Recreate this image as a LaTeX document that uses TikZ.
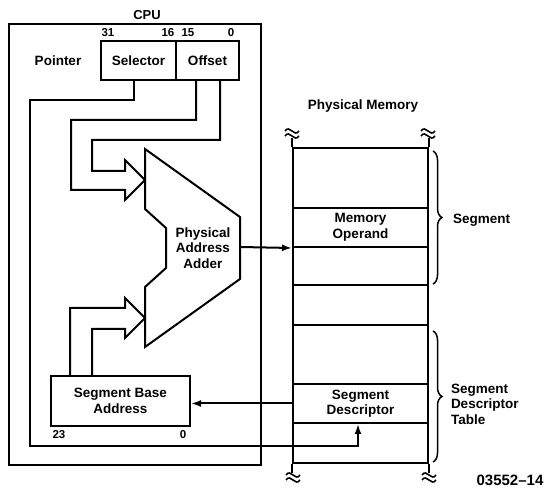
\documentclass[tikz,border=0pt]{standalone}
\usepackage{fontspec}
\setmainfont{Liberation Sans}
\usetikzlibrary{arrows.meta,decorations.pathreplacing,calc}
\begin{document}
\begin{tikzpicture}[x=1pt,y=-1pt,line width=2pt,line join=miter,
  lbl/.style={font=\fontsize{13.5}{15.5}\selectfont\bfseries,align=center,inner sep=0pt},
  num/.style={font=\fontsize{11.5}{12}\selectfont\bfseries,inner sep=0pt},
  field/.style={draw,lbl,minimum height=39pt},
  memrow/.style={draw,lbl,minimum width=135pt,minimum height=#1},
  tip/.style={-{Latex[length=10pt,width=7pt]}},
  brc/.style={decorate,decoration={brace,amplitude=9pt},line width=1.5pt},
  brk/.pic={\draw[line width=1.6pt] (-7,-2) .. controls (-2,-9) and (2,5) .. (7,-2);
            \draw[line width=1.6pt] (-7,3) .. controls (-2,-4) and (2,10) .. (7,3);}]
\useasboundingbox (0,0) rectangle (550,489);

% CPU
\node[draw,minimum width=252pt,minimum height=441pt,inner sep=0pt] (cpu) at (135,244.5) {};
\node[lbl,font=\fontsize{13}{14}\selectfont\bfseries] (cpulbl) at (147,15) {CPU};
\node[lbl] (ptr) at (58,61) {Pointer};
\node[field,minimum width=75pt] (sel) at (138.5,60.5) {Selector};
\node[field,minimum width=63pt] (off) at (207.5,60.5) {Offset};
\node[num] (b31) at (108,33) {31};
\node[num] (b16) at (168,33) {16};
\node[num] (b15) at (188,33) {15};
\node[num] (b0) at (231,33) {0};

% adder
\coordinate (tipA) at (145,180);
\coordinate (tipB) at (145,318);
\coordinate (aout) at (240,247);
\draw (145,149) -- (240,217) -- (240,279) -- (145,347) -- (145,287) -- (166,268)
      -- (166,228) -- (145,209) -- cycle;
\node[lbl] (add) at (203,248) {Physical\\Address\\Adder};

% segment base
\node[draw,lbl,minimum width=139pt,minimum height=50pt] (sb) at (120.5,401) {Segment Base\\Address};
\node[num] (b23) at (59,435) {23};
\node[num] (b0b) at (183,435) {0};

% memory
\node[lbl] (pm) at (363,106) {Physical Memory};
\node[memrow=60pt] (r1) at (360.5,178) {};
\node[memrow=39pt] (r2) at (360.5,227.5) {Memory\\Operand};
\node[memrow=38pt] (r3) at (360.5,266) {};
\node[memrow=40pt] (r4) at (360.5,305) {};
\node[memrow=59pt] (r5) at (360.5,354.5) {};
\node[memrow=39pt] (r6) at (360.5,403.5) {Segment\\Descriptor};
\node[memrow=40pt] (r7) at (360.5,443) {};
\draw (r1.north west) -- ++(0,-9);
\draw (r1.north east) -- ++(0,-9);
\draw (r7.south west) -- ++(0,9);
\draw (r7.south east) -- ++(0,9);
\pic at (292,133) {brk};
\pic at (428,133) {brk};
\pic at (293,477) {brk};
\pic at (429,477) {brk};

% braces
\draw[brc] (433,151) -- (433,284);
\draw[brc] (433,331) -- (433,462);
\node[lbl,anchor=west] (seg) at (452,220) {Segment};
\node[lbl,anchor=west,align=left] (sdt) at (450,404) {Segment\\Descriptor\\Table};
\node[lbl,font=\fontsize{15}{16}\selectfont\bfseries] (fig) at (510,480) {03552--14};

% wires: offset to adder
\draw ([xshift=21pt]off.south west) |- (71,120) -- (71,190) -- (125,190) -- (125,200)
      -- (tipA) -- (125,160) -- (125,171) -- (92,171) -- (92,140) -| ([xshift=-20pt]off.south east);
% segment base to adder
\draw ([xshift=20pt]sb.north west) |- (125,308) -- (125,298) -- (tipB) -- (125,338)
      -- (125,329) -| ([xshift=42pt]sb.north west);
% adder output
\draw[tip] (aout) -- (r2.south west);
% descriptor to segment base
\draw[tip] (r6.west) -- (r6.west -| sb.east);
% selector to descriptor
\draw[tip] ([xshift=-4.5pt]sel.south) -- ++(0,19) -| (30,446) -| ([xshift=-2.5pt]r6.south);
\end{tikzpicture}
\end{document}
